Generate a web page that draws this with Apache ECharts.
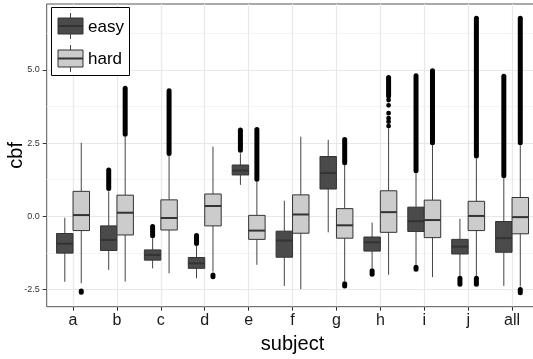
<!DOCTYPE html>
<html>
<head>
<meta charset="utf-8">
<script src="https://cdn.jsdelivr.net/npm/echarts@6/dist/echarts.min.js"></script>
<style>
  html, body { margin: 0; padding: 0; background: #fff; }
  #boxChart { width: 533px; height: 359px; }
</style>
</head>
<body>
<div id="boxChart"></div>
<script>
var subjects = ["a", "b", "c", "d", "e", "f", "g", "h", "i", "j", "all"];
var yTicks = [-2.5, 0, 2.5, 5];
var yMinor = [-1.25, 1.25, 3.75, 6.25];

// [whisker low, q1, median, q3, whisker high], one row per subject
var easyBoxes = [
  [-2.24, -1.26, -0.94, -0.59, -0.05],
  [-1.83, -1.17, -0.81, -0.33, 0.85],
  [-1.78, -1.50, -1.32, -1.15, -0.75],
  [-2.12, -1.78, -1.61, -1.41, -1.02],
  [1.07, 1.41, 1.56, 1.75, 2.15],
  [-2.38, -1.40, -0.83, -0.51, 0.53],
  [-0.55, 0.93, 1.48, 2.04, 2.61],
  [-1.78, -1.19, -0.89, -0.71, -0.22],
  [-1.66, -0.52, -0.17, 0.31, 1.47],
  [-2.04, -1.29, -1.04, -0.79, -0.09],
  [-2.38, -1.23, -0.75, -0.18, 1.30]
];
var hardBoxes = [
  [-2.29, -0.49, 0.04, 0.85, 2.51],
  [-2.23, -0.64, 0.12, 0.72, 2.72],
  [-1.95, -0.47, -0.06, 0.56, 2.06],
  [-1.89, -0.33, 0.35, 0.76, 2.38],
  [-1.66, -0.79, -0.49, 0.03, 1.18],
  [-2.49, -0.58, 0.06, 0.73, 2.72],
  [-2.21, -0.75, -0.31, 0.26, 1.75],
  [-2.00, -0.55, 0.14, 0.87, 3.00],
  [-2.08, -0.73, -0.13, 0.55, 2.43],
  [-2.04, -0.49, 0.01, 0.51, 1.98],
  [-2.40, -0.60, -0.03, 0.64, 2.43]
];

// dense runs of outliers: [subject index, from, to]
var easyOutlierRuns = [
  [1, 0.95, 1.58],
  [2, -0.67, -0.35],
  [3, -0.93, -0.66],
  [4, 2.25, 2.95],
  [7, -1.98, -1.86],
  [8, 1.55, 4.80],
  [8, -1.81, -1.74],
  [9, -2.32, -2.12],
  [10, 1.38, 4.78]
];
var hardOutlierRuns = [
  [0, -2.60, -2.55],
  [1, 2.80, 4.37],
  [2, 2.14, 4.29],
  [3, -2.07, -2.01],
  [4, 1.26, 2.96],
  [6, 1.83, 2.62],
  [6, -2.38, -2.31],
  [7, 4.11, 4.74],
  [8, 2.51, 4.97],
  [9, 2.06, 6.76],
  [9, -2.32, -2.12],
  [10, 2.51, 6.76],
  [10, -2.61, -2.50]
];
// single outliers: [subject index, value]
var hardOutlierPoints = [
  [7, 3.08], [7, 3.23], [7, 3.35], [7, 3.52], [7, 3.79], [7, 3.97]
];

var FONT = "'Liberation Sans', Arial, sans-serif";
var DODGE = 0.1875;

function boxData(rows) {
  return rows.map(function (r, i) {
    return [i, r[0], r[1], r[2], r[3], r[4]];
  });
}

function boxRenderer(side, fill) {
  return function (params, api) {
    var cx = api.value(0) + side * DODGE;
    var lo = api.coord([cx, api.value(1)]);
    var q1 = api.coord([cx, api.value(2)]);
    var md = api.coord([cx, api.value(3)]);
    var q3 = api.coord([cx, api.value(4)]);
    var hi = api.coord([cx, api.value(5)]);
    var half = api.size([DODGE, 0])[0];
    return {
      type: "group",
      children: [
        { type: "line", shape: { x1: lo[0], y1: lo[1], x2: q1[0], y2: q1[1] },
          style: { stroke: "#444", lineWidth: 1 } },
        { type: "line", shape: { x1: q3[0], y1: q3[1], x2: hi[0], y2: hi[1] },
          style: { stroke: "#444", lineWidth: 1 } },
        { type: "rect", shape: { x: q3[0] - half, y: q3[1], width: half * 2, height: q1[1] - q3[1] },
          style: { fill: fill, stroke: "#333", lineWidth: 1 } },
        { type: "line", shape: { x1: md[0] - half, y1: md[1], x2: md[0] + half, y2: md[1] },
          style: { stroke: "#333", lineWidth: 2 } }
      ]
    };
  };
}

function runRenderer(side) {
  return function (params, api) {
    var cx = api.value(0) + side * DODGE;
    var a = api.coord([cx, api.value(1)]);
    var b = api.coord([cx, api.value(2)]);
    return {
      type: "line",
      shape: { x1: a[0], y1: a[1], x2: b[0], y2: b[1] },
      style: { stroke: "#000", lineWidth: 5, lineCap: "round" }
    };
  };
}

function pointRenderer(side) {
  return function (params, api) {
    var p = api.coord([api.value(0) + side * DODGE, api.value(1)]);
    return { type: "circle", shape: { cx: p[0], cy: p[1], r: 2.4 }, style: { fill: "#000" } };
  };
}

var gridLines = [];
yTicks.forEach(function (v) {
  gridLines.push({ yAxis: v, lineStyle: { type: "solid", color: "#e8e8e8", width: 1.2 } });
});
yMinor.forEach(function (v) {
  gridLines.push({ yAxis: v, lineStyle: { type: "solid", color: "#f4f4f4", width: 1 } });
});
subjects.forEach(function (s, i) {
  gridLines.push({ xAxis: i, lineStyle: { type: "solid", color: "#e8e8e8", width: 1.2 } });
});

function legendItems() {
  var items = [
    { type: "rect", shape: { x: 51.5, y: 7.5, width: 78, height: 68 },
      style: { fill: "#fff", stroke: "#000", lineWidth: 1 } },
    { type: "line", shape: { x1: 70.5, y1: 13, x2: 70.5, y2: 39 }, style: { stroke: "#444", lineWidth: 1 } },
    { type: "rect", shape: { x: 58, y: 18, width: 25, height: 16 },
      style: { fill: "#4a4a4a", stroke: "#333", lineWidth: 1 } },
    { type: "line", shape: { x1: 58, y1: 26, x2: 83, y2: 26 }, style: { stroke: "#333", lineWidth: 2 } },
    { type: "text", style: { x: 88, y: 27, text: "easy", fontSize: 17, fontFamily: FONT,
      fill: "#000", verticalAlign: "middle" } },
    { type: "line", shape: { x1: 70.5, y1: 45, x2: 70.5, y2: 72 }, style: { stroke: "#444", lineWidth: 1 } },
    { type: "rect", shape: { x: 58, y: 50, width: 25, height: 17 },
      style: { fill: "#cccccc", stroke: "#333", lineWidth: 1 } },
    { type: "line", shape: { x1: 58, y1: 58.5, x2: 83, y2: 58.5 }, style: { stroke: "#333", lineWidth: 2 } },
    { type: "text", style: { x: 88, y: 59, text: "hard", fontSize: 17, fontFamily: FONT,
      fill: "#000", verticalAlign: "middle" } }
  ];
  items.forEach(function (el, k) { el.z = 100 + k; });
  return items;
}

var option = {
  animation: false,
  grid: {
    left: 46.7, right: -5.4, top: 4, bottom: 52.3,
    containLabel: false, outerBoundsMode: "none",
    show: true, borderColor: "#555", borderWidth: 1, backgroundColor: "#fff"
  },
  xAxis: {
    type: "value",
    min: -0.6,
    max: 10.6,
    name: "subject",
    nameLocation: "middle",
    nameGap: 28,
    nameMoveOverlap: false,
    nameTextStyle: { fontSize: 20, color: "#000", fontFamily: FONT },
    axisLine: { show: false, onZero: false },
    splitLine: { show: false },
    axisTick: { show: true, length: 4, customValues: [0, 1, 2, 3, 4, 5, 6, 7, 8, 9, 10],
      lineStyle: { color: "#333" } },
    axisLabel: {
      customValues: [0, 1, 2, 3, 4, 5, 6, 7, 8, 9, 10],
      formatter: function (v) { return subjects[Math.round(v)]; },
      fontSize: 16, color: "#1a1a1a", fontFamily: FONT, margin: 6
    }
  },
  yAxis: {
    type: "value",
    min: -3.09,
    max: 7.25,
    name: "cbf",
    nameLocation: "middle",
    nameRotate: 90,
    nameGap: 20,
    nameMoveOverlap: false,
    nameTextStyle: { fontSize: 20, color: "#000", fontFamily: FONT },
    axisLine: { show: false, onZero: false },
    splitLine: { show: false },
    axisTick: { show: true, length: 4, customValues: yTicks, lineStyle: { color: "#333" } },
    axisLabel: {
      customValues: yTicks,
      formatter: function (v) { return v.toFixed(1); },
      fontSize: 9, color: "#333", fontFamily: FONT, margin: 7
    }
  },
  series: [
    {
      type: "custom", name: "easy outliers", z: 2,
      renderItem: runRenderer(-1),
      data: easyOutlierRuns,
      markLine: { z: 0, silent: true, symbol: "none", label: { show: false }, data: gridLines }
    },
    { type: "custom", name: "hard outliers", z: 2, renderItem: runRenderer(1), data: hardOutlierRuns },
    { type: "custom", name: "hard points", z: 2, renderItem: pointRenderer(1), data: hardOutlierPoints },
    { type: "custom", name: "easy", z: 3, renderItem: boxRenderer(-1, "#4a4a4a"), data: boxData(easyBoxes) },
    { type: "custom", name: "hard", z: 3, renderItem: boxRenderer(1, "#cccccc"), data: boxData(hardBoxes) }
  ],
  graphic: [{ type: "group", z: 100, children: legendItems() }]
};

var myChart = echarts.init(document.getElementById("boxChart"));
myChart.setOption(option);
</script>
</body>
</html>
